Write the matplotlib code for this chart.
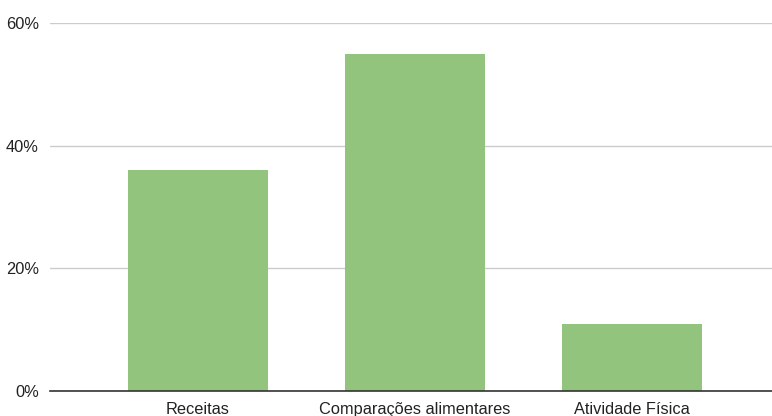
import matplotlib.pyplot as plt
from matplotlib.ticker import PercentFormatter

# Data
categories = ['Receitas', 'Comparações alimentares', 'Atividade Física']
values = [36, 55, 11]
y_ticks = [0, 20, 40, 60]

plt.rcParams['font.family'] = ['Liberation Sans', 'DejaVu Sans']

fig = plt.figure(figsize=(7.72, 4.16), dpi=100)
ax = fig.add_axes([50 / 772, 25 / 416, 722 / 772, 368 / 416])

x = range(len(categories))
ax.bar(x, values, width=0.645, color='#93c47d', zorder=2)

ax.set_xlim(-0.682, 2.645)
ax.set_ylim(0, 60)
ax.set_yticks(y_ticks)
ax.yaxis.set_major_formatter(PercentFormatter(decimals=0))
ax.set_xticks(list(x))
ax.set_xticklabels(categories)

ax.grid(axis='y', color='#cccccc', linewidth=1, zorder=0)
for side in ['top', 'right', 'left']:
    ax.spines[side].set_visible(False)
ax.spines['bottom'].set_color('#333333')
ax.spines['bottom'].set_linewidth(1.2)
ax.spines['bottom'].set_zorder(3)

ax.tick_params(axis='both', length=0, labelsize=11.8, colors='#222222')
ax.tick_params(axis='y', pad=8)
ax.tick_params(axis='x', pad=8)

fig.savefig('out.png', dpi=100)
